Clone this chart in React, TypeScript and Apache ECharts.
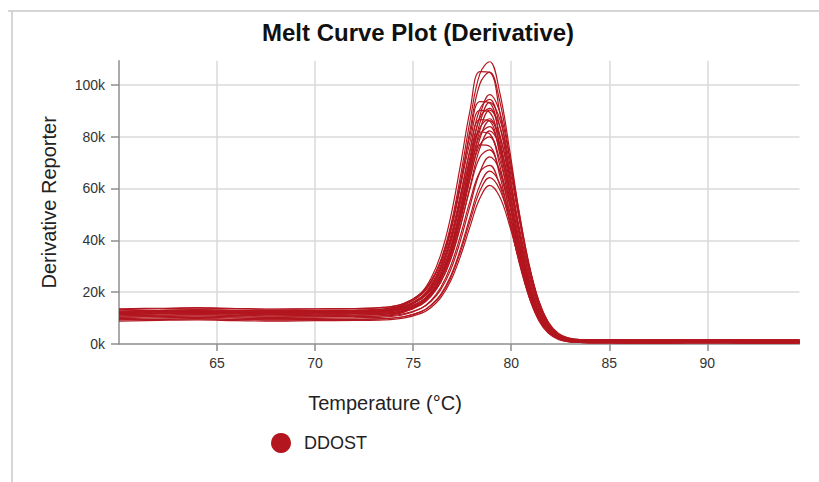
import React, { useEffect, useRef } from "react";
import * as echarts from "echarts";

// Temperature (°C) sample points shared by every well
const temperature = [60, 62, 64, 66, 68, 70, 72, 73.5, 74.5, 75.4, 75.9, 76.4, 76.9, 77.4, 77.9, 78.4, 78.9, 79.4, 79.9, 80.4, 80.9, 81.4, 81.9, 82.4, 82.9, 83.5, 85, 87, 89, 91, 93, 94.7];

// Derivative reporter values, in thousands (one array per well)
const well01 = [13.3, 13.6, 13.8, 13.6, 13.4, 13.5, 13.6, 14.1, 15.6, 19.5, 24.2, 32.2, 45.2, 64.2, 86.1, 104.2, 108.9, 97.6, 75.8, 51.0, 30.6, 16.2, 7.9, 3.9, 2.3, 1.7, 1.6, 1.5, 1.5, 1.6, 1.5, 1.5];
const well02 = [12.6, 12.9, 13.1, 12.8, 12.7, 12.9, 12.8, 13.5, 15.2, 19.7, 25.2, 34.3, 48.6, 68.6, 90.1, 105.1, 104.8, 90.1, 67.0, 43.1, 24.0, 11.9, 5.2, 2.2, 1.0, 0.6, 0.5, 0.4, 0.5, 0.5, 0.4, 0.4];
const well03 = [12.0, 12.3, 12.5, 12.2, 12.0, 12.1, 12.3, 12.8, 14.2, 18.0, 22.6, 30.3, 42.9, 61.2, 82.5, 100.3, 104.9, 94.2, 73.2, 49.2, 29.1, 15.3, 7.2, 3.3, 1.8, 1.2, 1.0, 0.9, 0.9, 1.0, 1.0, 0.9];
const well04 = [13.2, 13.0, 13.3, 13.1, 12.9, 13.0, 13.1, 13.5, 14.5, 17.4, 20.9, 27.0, 36.9, 52.0, 70.5, 88.0, 96.2, 89.8, 72.7, 51.0, 31.2, 16.8, 8.1, 3.6, 1.7, 0.9, 0.7, 0.7, 0.6, 0.7, 0.7, 0.6];
const well05 = [12.6, 12.9, 13.0, 12.8, 12.6, 12.8, 12.9, 13.4, 14.9, 18.9, 23.6, 31.7, 44.2, 61.8, 80.6, 93.5, 93.0, 79.7, 59.2, 38.0, 21.6, 11.0, 5.2, 2.5, 1.5, 1.1, 1.0, 0.9, 0.9, 1.0, 1.0, 0.9];
const well06 = [12.3, 12.6, 12.8, 12.6, 12.4, 12.5, 12.6, 13.0, 14.3, 17.7, 21.7, 28.7, 39.8, 56.2, 75.0, 90.6, 94.4, 84.5, 65.6, 44.2, 26.6, 14.2, 7.1, 3.6, 2.2, 1.6, 1.6, 1.5, 1.5, 1.6, 1.5, 1.5];
const well07 = [11.8, 12.1, 12.3, 12.1, 11.9, 12.0, 12.1, 12.4, 13.5, 16.3, 19.7, 25.6, 35.3, 49.9, 68.0, 85.2, 93.2, 87.1, 70.5, 49.5, 30.2, 16.2, 7.7, 3.3, 1.5, 0.7, 0.5, 0.4, 0.5, 0.5, 0.4, 0.4];
const well08 = [13.6, 13.8, 14.0, 13.7, 13.5, 13.6, 13.7, 14.1, 15.5, 19.3, 23.8, 31.5, 43.5, 60.2, 78.0, 90.1, 89.4, 76.6, 56.7, 36.4, 20.4, 10.2, 4.7, 2.1, 1.1, 0.8, 0.7, 0.7, 0.6, 0.7, 0.7, 0.6];
const well09 = [12.1, 12.4, 12.6, 12.3, 12.2, 12.3, 12.4, 12.8, 14.0, 17.3, 21.2, 27.8, 38.6, 54.3, 72.3, 87.3, 90.9, 81.3, 63.1, 42.2, 25.1, 13.2, 6.3, 3.0, 1.7, 1.1, 1.0, 0.9, 0.9, 1.0, 1.0, 0.9];
const well10 = [11.3, 11.6, 11.8, 11.6, 11.4, 11.5, 11.6, 11.9, 12.9, 15.6, 18.9, 24.7, 34.0, 48.2, 65.8, 82.4, 90.2, 84.4, 68.3, 48.3, 30.3, 16.7, 8.4, 4.2, 2.4, 1.7, 1.6, 1.5, 1.5, 1.6, 1.5, 1.5];
const well11 = [12.1, 11.9, 12.2, 12.0, 11.8, 12.0, 12.1, 12.7, 13.9, 17.6, 22.0, 29.4, 41.1, 57.3, 74.6, 86.6, 86.0, 73.8, 54.7, 35.1, 19.6, 9.7, 4.4, 1.9, 0.9, 0.6, 0.5, 0.4, 0.5, 0.5, 0.4, 0.4];
const well12 = [11.6, 11.9, 12.1, 11.8, 11.7, 11.8, 11.9, 12.3, 13.4, 16.5, 20.3, 26.6, 36.9, 51.9, 69.2, 83.4, 86.9, 77.7, 60.3, 40.4, 23.7, 12.4, 5.8, 2.6, 1.3, 0.8, 0.7, 0.7, 0.6, 0.7, 0.7, 0.6];
const well13 = [12.4, 12.7, 12.9, 12.6, 12.5, 12.6, 12.7, 12.9, 13.8, 16.4, 19.5, 24.9, 33.8, 47.2, 63.6, 79.2, 86.2, 80.4, 65.0, 45.5, 28.2, 15.4, 7.6, 3.6, 1.9, 1.2, 1.0, 0.9, 0.9, 1.0, 1.0, 0.9];
const well14 = [10.8, 11.1, 11.3, 11.1, 10.9, 11.0, 11.1, 11.5, 12.6, 15.6, 19.2, 25.4, 35.3, 49.9, 66.6, 80.5, 83.9, 75.1, 58.3, 39.5, 23.8, 12.8, 6.4, 3.4, 2.1, 1.6, 1.6, 1.5, 1.5, 1.6, 1.5, 1.5];
const well15 = [12.5, 12.8, 13.0, 12.7, 12.5, 12.7, 12.8, 13.1, 14.4, 17.9, 22.0, 28.9, 39.7, 54.9, 70.9, 81.8, 81.1, 69.4, 51.4, 32.9, 18.3, 9.1, 4.1, 1.8, 0.9, 0.6, 0.5, 0.4, 0.5, 0.5, 0.4, 0.4];
const well16 = [11.9, 12.2, 12.0, 11.8, 12.1, 12.2, 12.0, 12.4, 13.3, 15.7, 18.7, 23.8, 32.3, 45.1, 60.7, 75.5, 82.2, 76.6, 61.9, 43.4, 26.6, 14.4, 7.0, 3.2, 1.5, 0.9, 0.7, 0.7, 0.6, 0.7, 0.7, 0.6];
const well17 = [11.4, 11.6, 11.8, 11.5, 11.3, 11.5, 11.6, 11.9, 13.0, 15.8, 19.2, 25.1, 34.5, 48.2, 64.0, 76.9, 79.9, 71.4, 55.3, 37.1, 22.1, 11.7, 5.7, 2.8, 1.6, 1.1, 1.0, 0.9, 0.9, 1.0, 1.0, 0.9];
const well18 = [10.3, 10.6, 10.8, 10.5, 10.4, 10.5, 10.6, 11.0, 12.2, 15.5, 19.4, 26.0, 36.3, 50.8, 66.2, 76.8, 76.3, 65.5, 48.6, 31.6, 18.4, 9.7, 4.9, 2.7, 1.9, 1.6, 1.6, 1.5, 1.5, 1.6, 1.5, 1.5];
const well19 = [10.9, 11.1, 11.3, 11.0, 10.8, 11.0, 11.1, 11.4, 12.4, 15.1, 18.3, 23.7, 32.5, 45.3, 60.0, 72.1, 74.9, 66.9, 51.8, 34.7, 20.2, 10.5, 4.9, 2.1, 1.0, 0.6, 0.5, 0.4, 0.5, 0.5, 0.4, 0.4];
const well20 = [10.4, 10.6, 10.8, 10.5, 10.3, 10.5, 10.6, 10.8, 11.6, 13.8, 16.4, 20.9, 28.3, 39.6, 53.3, 66.3, 72.2, 67.3, 54.3, 38.1, 23.4, 12.7, 6.2, 2.9, 1.4, 0.9, 0.7, 0.7, 0.6, 0.7, 0.7, 0.6];
const well21 = [9.8, 10.1, 10.3, 10.0, 9.8, 9.9, 10.1, 10.4, 11.3, 13.7, 16.7, 21.7, 29.8, 41.6, 55.2, 66.3, 68.9, 61.6, 47.7, 31.9, 19.1, 10.2, 5.0, 2.5, 1.5, 1.1, 1.0, 0.9, 0.9, 1.0, 1.0, 0.9];
const well22 = [9.3, 9.6, 9.8, 9.5, 9.3, 9.4, 9.6, 9.8, 10.5, 12.5, 15.0, 19.1, 26.0, 36.4, 49.1, 61.2, 66.7, 62.2, 50.3, 35.8, 22.6, 12.6, 6.6, 3.5, 2.2, 1.7, 1.6, 1.5, 1.5, 1.6, 1.5, 1.5];
const well23 = [9.6, 9.4, 9.7, 9.5, 9.3, 9.5, 9.4, 9.8, 10.5, 12.4, 14.7, 18.7, 25.3, 35.3, 47.4, 59.0, 64.2, 59.8, 48.3, 33.9, 20.7, 11.2, 5.4, 2.4, 1.2, 0.6, 0.5, 0.4, 0.5, 0.5, 0.4, 0.4];
const well24 = [8.8, 9.1, 9.3, 9.0, 8.8, 9.0, 9.1, 9.3, 10.0, 11.8, 14.0, 17.8, 24.1, 33.6, 45.3, 56.2, 61.2, 57.0, 46.1, 32.4, 20.0, 10.9, 5.3, 2.5, 1.3, 0.8, 0.7, 0.7, 0.6, 0.7, 0.7, 0.6];

const wells = [well01, well02, well03, well04, well05, well06, well07, well08, well09, well10, well11, well12, well13, well14, well15, well16, well17, well18, well19, well20, well21, well22, well23, well24];

const targetName = "DDOST";
const xTickValues = [65, 70, 75, 80, 85, 90];
const yTickValues = [0, 20, 40, 60, 80, 100];

const RED = "#b3161f";
const AXIS = "#8e8e8e";
const GRID = "#dadada";
const FONT = "'Liberation Sans', Arial, Helvetica, sans-serif";

export default function App() {
  const ref = useRef<HTMLDivElement>(null);

  useEffect(() => {
    if (!ref.current) return;
    const chart = echarts.init(ref.current, undefined, { renderer: "svg" });

    const series = wells.map((w) => ({
      type: "line",
      name: targetName,
      data: temperature.map((t, i) => [t, w[i]]),
      smooth: 0.4,
      showSymbol: false,
      symbol: "none",
      lineStyle: { color: RED, width: 1.2 },
      itemStyle: { color: RED },
      emphasis: { disabled: true },
    }));

    chart.setOption({
      animation: false,
      textStyle: { fontFamily: FONT },
      title: {
        text: "Melt Curve Plot (Derivative)",
        left: 262,
        top: 20,
        padding: 0,
        textStyle: { fontSize: 24, fontWeight: "bold", color: "#111", fontFamily: FONT },
      },
      legend: {
        data: [targetName],
        left: 271,
        top: 433,
        padding: 0,
        icon: "circle",
        itemWidth: 20,
        itemHeight: 20,
        textStyle: { fontSize: 18, color: "#222", padding: [0, 0, 0, 8], fontFamily: FONT },
      },
      grid: { left: 119, right: 19.5, top: 60.7, bottom: 138, containLabel: false },
      xAxis: {
        type: "value",
        min: 60,
        max: 94.7,
        interval: 5,
        axisLine: { show: true, lineStyle: { color: AXIS, width: 1.5 } },
        axisTick: { show: true, length: 7, lineStyle: { color: AXIS, width: 1.5 } },
        axisLabel: {
          show: true,
          showMinLabel: false,
          showMaxLabel: false,
          margin: 12,
          fontSize: 14,
          color: "#333",
          fontFamily: FONT,
          formatter: (v: number) => (xTickValues.includes(v) ? String(v) : ""),
        },
        splitLine: { show: true, showMinLine: false, showMaxLine: false, lineStyle: { color: GRID, width: 1.5 } },
      },
      yAxis: {
        type: "value",
        min: 0,
        max: 109.3,
        interval: 20,
        name: "Derivative Reporter",
        nameLocation: "middle",
        nameGap: 60,
        nameTextStyle: { fontSize: 20, color: "#222", fontFamily: FONT },
        axisLine: { show: true, lineStyle: { color: AXIS, width: 1.5 } },
        axisTick: { show: true, length: 8, lineStyle: { color: AXIS, width: 1.5 } },
        axisLabel: {
          show: true,
          showMaxLabel: false,
          margin: 14,
          fontSize: 14,
          color: "#333",
          fontFamily: FONT,
          formatter: (v: number) => (yTickValues.includes(v) ? `${v}k` : ""),
        },
        splitLine: { show: true, showMinLine: false, showMaxLine: false, lineStyle: { color: GRID, width: 1.5 } },
      },
      graphic: [
        { type: "line", shape: { x1: 8, y1: 11, x2: 819, y2: 11 }, style: { stroke: "#c8c8c8", lineWidth: 1.5 }, silent: true },
        { type: "line", shape: { x1: 12, y1: 11, x2: 12, y2: 482 }, style: { stroke: "#c8c8c8", lineWidth: 1.5 }, silent: true },
        {
          type: "text",
          x: 385,
          y: 403,
          style: {
            text: "Temperature (°C)",
            fontSize: 20,
            fontFamily: FONT,
            fill: "#222",
            textAlign: "center",
            textVerticalAlign: "middle",
          },
          silent: true,
        },
      ],
      series,
    });

    return () => chart.dispose();
  }, []);

  return <div ref={ref} style={{ position: "absolute", left: 0, top: 0, width: 819, height: 482 }} />;
}
